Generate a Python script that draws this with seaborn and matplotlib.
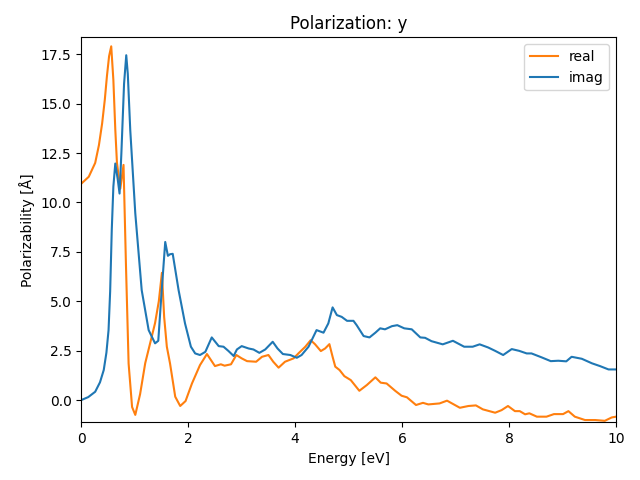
import matplotlib
matplotlib.use("Agg")
import matplotlib.pyplot as plt
import seaborn as sns

# real part (orange)
real_e = [0.0, 0.14, 0.26, 0.33, 0.39, 0.44, 0.48, 0.52, 0.56, 0.60, 0.636, 0.667,
          0.73, 0.79, 0.835, 0.885, 0.95, 1.01, 1.1, 1.196, 1.29, 1.38, 1.45, 1.508,
          1.55, 1.60, 1.66, 1.757, 1.85, 1.95, 2.07, 2.22, 2.35, 2.50, 2.61, 2.68,
          2.80, 2.90, 3.0, 3.10, 3.27, 3.38, 3.50, 3.59, 3.69, 3.81, 3.97, 4.06,
          4.19, 4.29, 4.37, 4.48, 4.56, 4.64, 4.70, 4.75, 4.83, 4.92, 5.04, 5.20,
          5.34, 5.50, 5.60, 5.71, 5.87, 5.99, 6.09, 6.26, 6.39, 6.49, 6.70, 6.84,
          7.08, 7.24, 7.38, 7.51, 7.74, 7.86, 7.98, 8.11, 8.20, 8.30, 8.38, 8.52,
          8.70, 8.84, 9.01, 9.11, 9.23, 9.42, 9.61, 9.79, 9.92, 10.0]
real_v = [10.95, 11.3, 12.0, 12.9, 14.0, 15.2, 16.4, 17.4, 17.9, 16.2, 13.7, 12.0,
          10.7, 11.9, 6.9, 1.85, -0.35, -0.75, 0.3, 1.87, 2.9, 3.9, 5.0, 6.44,
          4.2, 2.7, 1.85, 0.17, -0.3, -0.05, 0.84, 1.77, 2.33, 1.72, 1.81, 1.74,
          1.81, 2.28, 2.11, 1.97, 1.94, 2.19, 2.28, 1.94, 1.64, 1.94, 2.11, 2.36,
          2.70, 3.03, 2.83, 2.48, 2.61, 2.83, 2.19, 1.69, 1.52, 1.21, 1.01, 0.47,
          0.76, 1.15, 0.88, 0.84, 0.47, 0.22, 0.14, -0.25, -0.14, -0.22, -0.17, -0.03,
          -0.39, -0.30, -0.27, -0.47, -0.64, -0.51, -0.30, -0.56, -0.56, -0.72, -0.67, -0.84,
          -0.84, -0.71, -0.71, -0.56, -0.84, -1.01, -1.01, -1.05, -0.88, -0.84]

# imaginary part (blue)
imag_e = [0.0, 0.13, 0.26, 0.35, 0.42, 0.47, 0.51, 0.54, 0.57, 0.60, 0.636, 0.68,
          0.716, 0.75, 0.80, 0.841, 0.87, 0.916, 1.01, 1.13, 1.26, 1.38, 1.44, 1.495,
          1.57, 1.62, 1.66, 1.71, 1.82, 1.94, 2.05, 2.13, 2.22, 2.32, 2.44, 2.57,
          2.66, 2.75, 2.85, 2.91, 3.0, 3.13, 3.22, 3.33, 3.44, 3.58, 3.67, 3.77,
          3.91, 4.03, 4.12, 4.25, 4.40, 4.53, 4.62, 4.70, 4.78, 4.87, 4.97, 5.09,
          5.15, 5.28, 5.39, 5.50, 5.59, 5.68, 5.81, 5.91, 6.04, 6.18, 6.34, 6.43,
          6.55, 6.76, 6.95, 7.16, 7.32, 7.45, 7.61, 7.74, 7.89, 8.05, 8.19, 8.33,
          8.42, 8.61, 8.78, 8.92, 9.07, 9.17, 9.36, 9.55, 9.70, 9.86, 10.0]
imag_v = [0.0, 0.15, 0.42, 0.9, 1.52, 2.4, 3.54, 5.5, 8.6, 10.8, 11.97, 11.2,
          10.45, 12.5, 16.0, 17.45, 16.5, 13.66, 9.45, 5.56, 3.54, 2.87, 3.0, 5.2,
          8.0, 7.3, 7.38, 7.4, 5.56, 3.88, 2.7, 2.36, 2.28, 2.44, 3.17, 2.73,
          2.70, 2.49, 2.23, 2.56, 2.73, 2.61, 2.56, 2.39, 2.56, 2.95, 2.61, 2.33,
          2.28, 2.14, 2.28, 2.70, 3.54, 3.41, 3.88, 4.69, 4.30, 4.21, 4.01, 4.01,
          3.79, 3.24, 3.17, 3.41, 3.63, 3.58, 3.74, 3.79, 3.63, 3.58, 3.17, 3.15,
          2.98, 2.82, 3.0, 2.70, 2.70, 2.82, 2.66, 2.49, 2.28, 2.58, 2.49, 2.36,
          2.36, 2.16, 1.97, 1.99, 1.96, 2.19, 2.09, 1.86, 1.72, 1.55, 1.55]

fig, ax = plt.subplots(figsize=(6.4, 4.8), dpi=100)
sns.lineplot(x=real_e, y=real_v, ax=ax, color="C1", label="real", sort=False)
sns.lineplot(x=imag_e, y=imag_v, ax=ax, color="C0", label="imag", sort=False)
ax.set_xlim(0, 10)
ax.set_ylim(-1.13, 18.35)
ax.set_xlabel("Energy [eV]")
ax.set_ylabel("Polarizability [Å]")
ax.set_title("Polarization: y")
ax.legend(loc="upper right")
fig.subplots_adjust(left=0.127, right=0.9625, top=0.922, bottom=0.12)
plt.savefig("out.png", dpi=100)
plt.close()
